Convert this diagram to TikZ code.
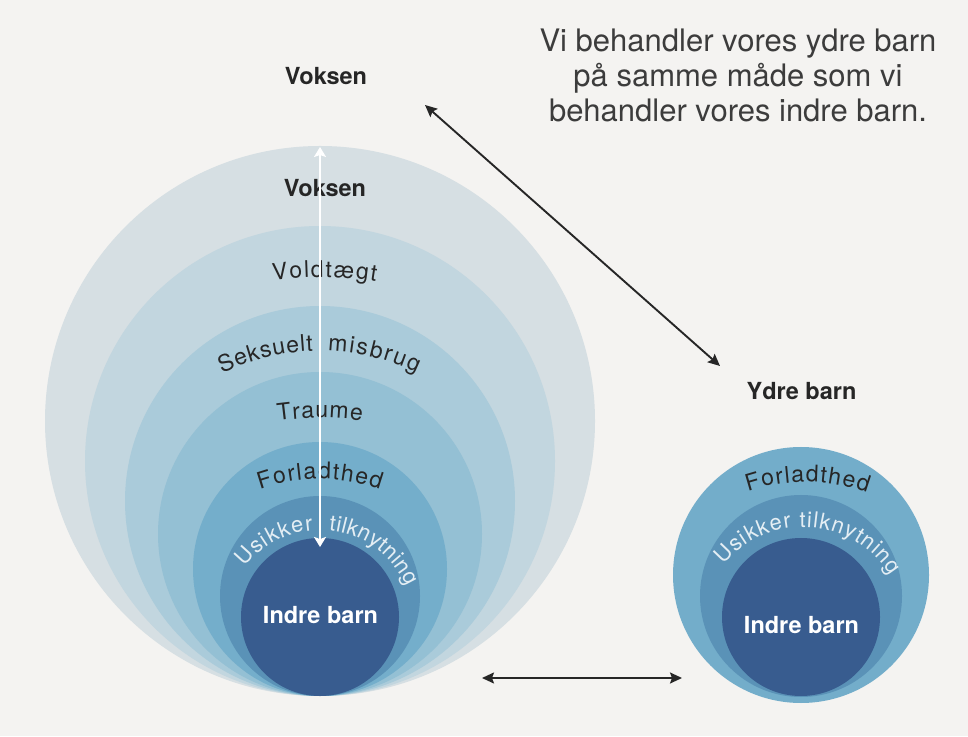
\documentclass[tikz,border=0pt]{standalone}
\usepackage{xcolor}
\usepackage{fontspec}
\setmainfont{TeX Gyre Heros}
\usepackage{tikz}
\usetikzlibrary{arrows.meta,decorations.text,positioning}
\definecolor{paper}{HTML}{F4F3F1}
\definecolor{ring1}{HTML}{D6DFE3}
\definecolor{ring2}{HTML}{C2D6DF}
\definecolor{ring3}{HTML}{AACBDA}
\definecolor{ring4}{HTML}{94C0D4}
\definecolor{ring5}{HTML}{74AECB}
\definecolor{ring6}{HTML}{5A92B7}
\definecolor{core}{HTML}{385C8F}
\definecolor{ink}{HTML}{262626}
\definecolor{pale}{HTML}{E4EEF4}
\newcommand{\ringfont}{\fontsize{23}{23}\selectfont}
\newcommand{\bandfont}{\fontsize{22}{22}\selectfont}

\tikzset{
    disc/.style={circle, inner sep=0pt, draw=none},
    heading/.style={font=\fontsize{23.5}{26}\selectfont\bfseries, text=ink, anchor=base, inner sep=0pt},
    curved/.style 2 args={
        decorate,
        decoration={text along path, text align=fit to path, text color=#1, text={#2}}
    },
    link/.style={draw=ink, line width=1.9pt,
        {Stealth[length=12pt,width=11pt,inset=2pt]}-{Stealth[length=12pt,width=11pt,inset=2pt]}}
}

\begin{document}
\begin{tikzpicture}[x=1pt, y=1pt]
    \useasboundingbox (0,0) rectangle (968,736);
    \fill[paper] (0,0) rectangle (968,736);

    % Voksen circles
    \node[disc, fill=ring1, minimum size=550pt] (r1) at (320,315) {};
    \node[disc, fill=ring2, minimum size=470pt] (r2) at (320,275) {};
    \node[disc, fill=ring3, minimum size=390pt] (r3) at (320,235) {};
    \node[disc, fill=ring4, minimum size=324pt] (r4) at (320,202) {};
    \node[disc, fill=ring5, minimum size=254pt] (r5) at (320,167) {};
    \node[disc, fill=ring6, minimum size=200pt] (r6) at (320,140) {};
    \node[disc, fill=core, minimum size=158pt] (r7) at (320,119) {};

    % Ydre barn circles
    \node[disc, fill=ring5!95!ring6, minimum size=256pt] (s1) at (801,161) {};
    \node[disc, fill=ring6, minimum size=202pt] (s2) at (801,140) {};
    \node[disc, fill=core, minimum size=158pt] (s3) at (801,119) {};

    % ring labels
    \path[curved={ink}{|\ringfont|Voldtægt}] ([shift={(320,109)}]97.7:350pt) arc[start angle=97.7, end angle=80.8, radius=350pt];
    \path[curved={ink}{|\ringfont|Seksuelt}] ([shift={(320,160)}]115.8:225pt) arc[start angle=115.8, end angle=91.8, radius=225pt];
    \path[curved={ink}{|\ringfont|misbrug}] ([shift={(320,160)}]88:225pt) arc[start angle=88, end angle=64.5, radius=225pt];
    \path[curved={ink}{|\ringfont|Traume}] ([shift={(320,18)}]98.05:300pt) arc[start angle=98.05, end angle=81.95, radius=300pt];
    \path[curved={ink}{|\ringfont|Forladthed}] ([shift={(320,77)}]109.5:180pt) arc[start angle=109.5, end angle=70.5, radius=180pt];
    \path[curved={pale}{|\bandfont|Usikker}] ([shift={(320,111)}]142.5:95pt) arc[start angle=142.5, end angle=94.2, radius=95pt];
    \path[curved={pale}{|\bandfont|tilknytning}] ([shift={(320,111)}]84.6:95pt) arc[start angle=84.6, end angle=24.1, radius=95pt];

    \path[curved={ink}{|\ringfont|Forladthed}] ([shift={(805,74)}]108.5:180pt) arc[start angle=108.5, end angle=69.8, radius=180pt];
    \path[curved={pale}{|\bandfont|Usikker tilknytning}] ([shift={(803,106)}]140.5:103pt) arc[start angle=140.5, end angle=32, radius=103pt];

    % titles
    \node[heading] (voksenOut) at (326,651) {Voksen};
    \node[heading] (voksenIn) at (325,539) {Voksen};
    \node[heading] (ydre) at (801.5,336) {Ydre barn};
    \node[heading, text=white] (indreBig) at (320.5,113) {Indre barn};
    \node[heading, text=white] (indreSmall) at (801.5,103) {Indre barn};

    \node[anchor=base, align=center, text=ink!90, inner sep=0pt,
        font=\fontsize{31}{35}\selectfont] (quote) at (738,614)
        {Vi behandler vores ydre barn\\på samme måde som vi\\behandler vores indre barn.};

    % arrows
    \coordinate (upTip) at (320,589);
    \coordinate (downTip) at (320,189);
    \coordinate (diagA) at (425,631);
    \coordinate (diagB) at (720,370);
    \coordinate (flatA) at (482,58);
    \coordinate (flatB) at (682,58);

    \draw[white, line width=2pt, {Stealth[length=10pt,width=12pt,inset=2pt]}-{Stealth[length=10pt,width=12pt,inset=2pt]}] (upTip) -- (downTip);
    \draw[link] (diagA) -- (diagB);
    \draw[link] (flatA) -- (flatB);
\end{tikzpicture}
\end{document}
